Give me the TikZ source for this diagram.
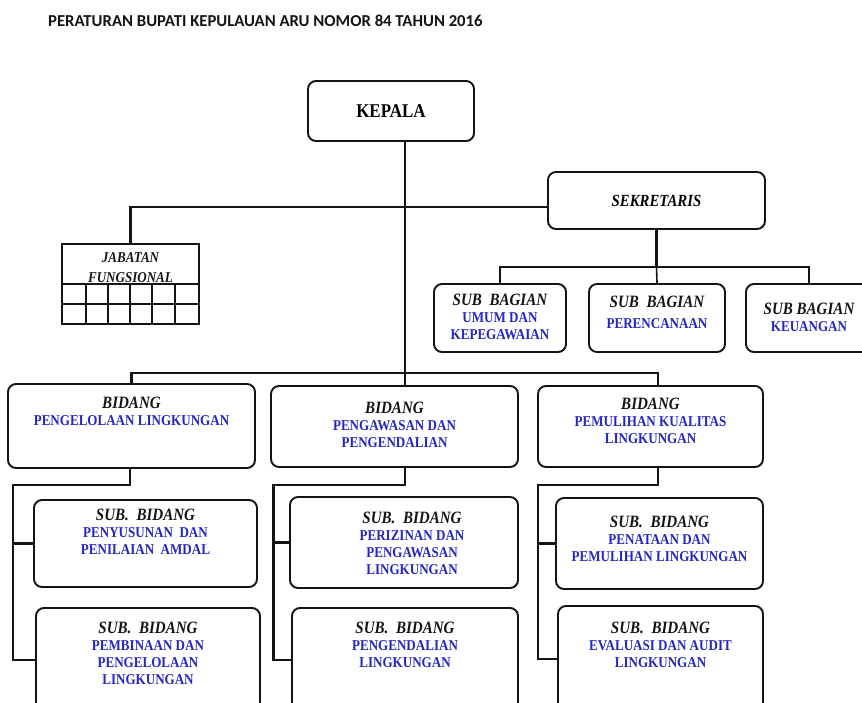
\documentclass[tikz,border=0pt]{standalone}
\usepackage{fontspec}
\usepackage{xcolor}
\usetikzlibrary{positioning, calc}
\newfontfamily\orgfont[FakeStretch=0.87]{Liberation Serif}
\newfontfamily\titlefont{Carlito}
\definecolor{LineDark}{RGB}{20,20,20}
\definecolor{UnitBlue}{RGB}{38,38,192}
\newcommand{\headline}{\color{LineDark}\itshape\fontsize{17.3}{16.8}\selectfont}
\tikzset{
  orgbox/.style={draw=LineDark, line width=1.9pt, rounded corners=8pt, fill=white, inner sep=0pt},
  jabbox/.style={draw=LineDark, line width=2.2pt, inner sep=0pt},
  link/.style={draw=LineDark, line width=2.4pt},
  thinlink/.style={draw=LineDark, line width=1.6pt},
  gridline/.style={draw=LineDark, line width=1.2pt},
  unit/.style={inner sep=0pt, align=center, text=UnitBlue,
    font=\orgfont\bfseries\fontsize{15}{16.8}\selectfont},
}

\begin{document}
\begin{tikzpicture}[x=1pt,y=-1pt]
  \useasboundingbox (0,0) rectangle (862,702);
  \clip (0,0) rectangle (862,702);
  \fill[white] (0,0) rectangle (862,702);
  % Title
  \node[anchor=base west, inner sep=0pt, text=LineDark,
    font=\titlefont\bfseries\fontsize{16.7}{18}\selectfont] (judul) at (48,26)
    {PERATURAN BUPATI KEPULAUAN ARU NOMOR 84 TAHUN 2016};
  % Kepala and sekretaris
  \node[orgbox, minimum width=166pt, minimum height=60pt,
    font=\orgfont\bfseries\fontsize{19.5}{19}\selectfont] (kepala) at (391,111) {KEPALA};
  \node[orgbox, minimum width=217pt, minimum height=57pt,
    font=\orgfont\bfseries\itshape\fontsize{17}{17}\selectfont] (sekretaris) at (656.5,200.5) {SEKRETARIS};
  % Jabatan fungsional with its grid
  \node[jabbox, minimum width=137pt, minimum height=80pt] (jabatan) at (130.5,284) {};
  \node[inner sep=0pt, align=center, text=LineDark, below=9pt of jabatan.north,
    font=\orgfont\bfseries\itshape\fontsize{15}{20}\selectfont] (jabatantxt) {JABATAN\\FUNGSIONAL};
  \foreach \y in {284,304}{
    \draw[gridline] (62,\y) -- (199,\y);}
  \foreach \x in {86,108,130,152,175}{
    \draw[gridline] (\x,284) -- (\x,324);}
  % Sub bagian
  \node[orgbox, minimum width=132pt, minimum height=68pt] (bagian1) at (500,318) {};
  \node[orgbox, minimum width=136pt, minimum height=68pt] (bagian2) at (657,318) {};
  \node[orgbox, minimum width=126pt, minimum height=68pt] (bagian3) at (809,318) {};
  \node[unit, below=11pt of bagian1.north] (bagian1txt) {{\headline SUB\ \ BAGIAN}\\UMUM DAN\\KEPEGAWAIAN};
  \node[unit, below=13pt of bagian2.north] (bagian2txt) {{\headline SUB\ \ BAGIAN}\\[4pt]PERENCANAAN};
  \node[unit, below=20pt of bagian3.north] (bagian3txt) {{\headline SUB BAGIAN}\\KEUANGAN};
  % Bidang
  \node[orgbox, minimum width=247pt, minimum height=84pt] (bidang1) at (131.5,426) {};
  \node[orgbox, minimum width=247pt, minimum height=81pt] (bidang2) at (394.5,426.5) {};
  \node[orgbox, minimum width=225pt, minimum height=81pt] (bidang3) at (650.5,426.5) {};
  \node[unit, below=14pt of bidang1.north] (bidang1txt) {{\headline BIDANG}\\PENGELOLAAN LINGKUNGAN};
  \node[unit, below=17pt of bidang2.north] (bidang2txt) {{\headline BIDANG}\\PENGAWASAN DAN\\PENGENDALIAN};
  \node[unit, below=13pt of bidang3.north] (bidang3txt) {{\headline BIDANG}\\PEMULIHAN KUALITAS\\LINGKUNGAN};
  % Sub bidang
  \node[orgbox, minimum width=223pt, minimum height=87pt] (subA1) at (145.5,543.5) {};
  \node[orgbox, minimum width=224pt, minimum height=104pt] (subB1) at (148,660) {};
  \node[orgbox, minimum width=228pt, minimum height=91pt] (subA2) at (404,542.5) {};
  \node[orgbox, minimum width=226pt, minimum height=104pt] (subB2) at (405,660) {};
  \node[orgbox, minimum width=207pt, minimum height=91pt] (subA3) at (659.5,543.5) {};
  \node[orgbox, minimum width=205pt, minimum height=106pt] (subB3) at (660.5,659) {};
  \node[unit, below=10pt of subA1.north] (subA1txt) {{\headline SUB.\ \ BIDANG}\\PENYUSUNAN\ \ DAN\\PENILAIAN\ \ AMDAL};
  \node[unit, below=15pt of subB1.north] (subB1txt) {{\headline SUB.\ \ BIDANG}\\PEMBINAAN DAN\\PENGELOLAAN\\LINGKUNGAN};
  \node[unit, below=16pt of subA2.north, xshift=8pt] (subA2txt) {{\headline SUB.\ \ BIDANG}\\PERIZINAN DAN\\PENGAWASAN\\LINGKUNGAN};
  \node[unit, below=15pt of subB2.north] (subB2txt) {{\headline SUB.\ \ BIDANG}\\PENGENDALIAN\\LINGKUNGAN};
  \node[unit, below=19pt of subA3.north] (subA3txt) {{\headline SUB.\ \ BIDANG}\\PENATAAN DAN\\PEMULIHAN LINGKUNGAN};
  \node[unit, below=17pt of subB3.north] (subB3txt) {{\headline SUB.\ \ BIDANG}\\EVALUASI DAN AUDIT\\LINGKUNGAN};
  % Connectors from kepala
  \coordinate (spine) at ($(kepala.south)+(14,0)$);
  \coordinate (bus) at (405,373);
  \draw[link] (spine) -- (spine |- bidang2.north);
  \draw[link] (jabatan.north) |- ($(sekretaris.west)+(0,6.5)$);
  \draw[link] (bidang1.north) |- (bus) -| ($(bidang3.north)+(7.5,0)$);
  % Connectors from sekretaris
  \coordinate (sekbus) at (656.5,267);
  \draw[link] (sekretaris.south) -- (sekbus);
  \draw[thinlink] (bagian1.north) |- (sekbus) -| (bagian3.north);
  \draw[thinlink] (sekbus) -- (bagian2.north);
  % Connectors to sub bidang
  \foreach \b/\dx/\rx in {1/-1.5/13, 2/10.5/273.5, 3/7.5/538}{
    \coordinate (rail\b) at (\rx,485);
    \draw[link] ($(bidang\b.south)+(\dx,0)$) |- (rail\b) |- (subB\b.west);
    \draw[link] (rail\b |- subA\b.west) -- (subA\b.west);}
\end{tikzpicture}
\end{document}
